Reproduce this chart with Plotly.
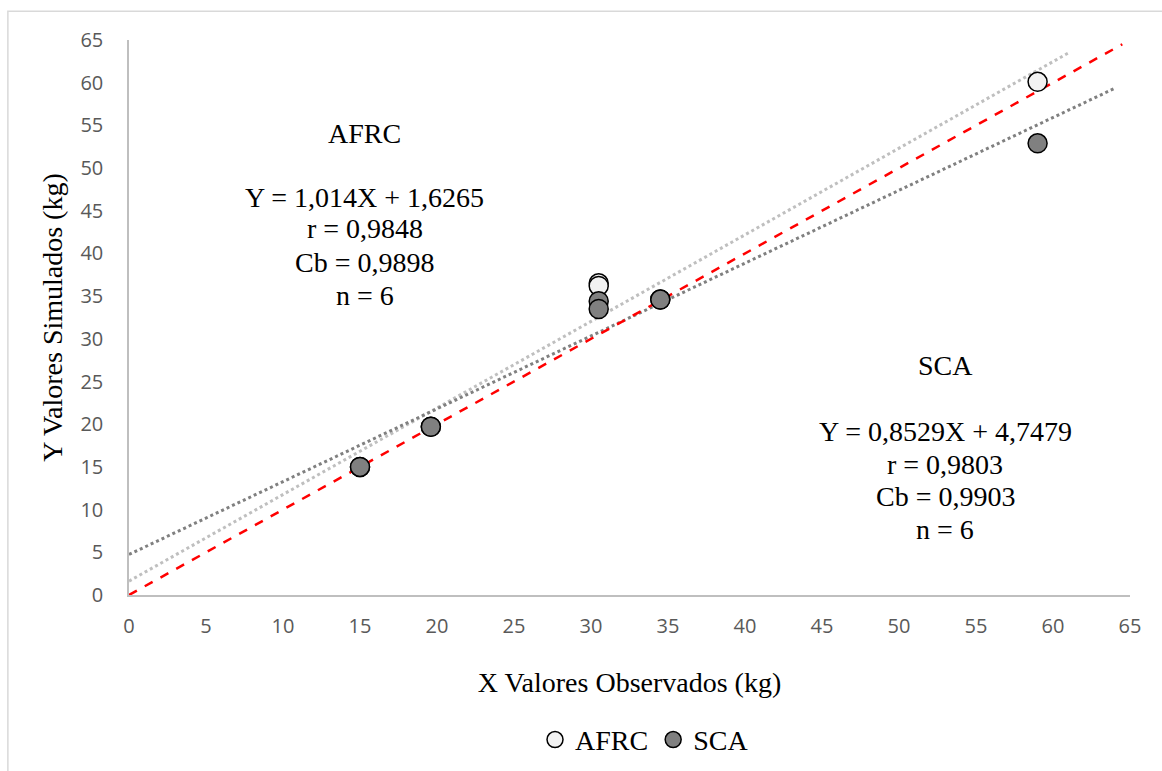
import plotly.graph_objects as go

# Observed values (kg)
obs_x = [15.0, 19.6, 30.5, 30.5, 34.5, 59.0]
# Simulated values
afrc_y = [15.0, 19.7, 36.5, 36.2, 34.6, 60.1]
sca_y = [15.0, 19.7, 34.4, 33.5, 34.6, 52.9]

# Regression coefficients (from annotation)
afrc_slope, afrc_int = 1.014, 1.6265
sca_slope, sca_int = 0.8529, 4.7479
afrc_trend_x = [0, 61]
sca_trend_x = [0, 64]
ident_x = [0, 64.5]

x_ticks = list(range(0, 70, 5))
y_ticks = list(range(0, 70, 5))

afrc_lines = ["AFRC", "Y = 1,014X + 1,6265", "r = 0,9848", "Cb = 0,9898", "n = 6"]
afrc_line_y = [54.1, 46.6, 42.9, 39.0, 35.1]
sca_lines = ["SCA", "Y = 0,8529X + 4,7479", "r = 0,9803", "Cb = 0,9903", "n = 6"]
sca_line_y = [26.9, 19.1, 15.3, 11.5, 7.7]

fig = go.Figure()

fig.add_trace(go.Scatter(
    x=afrc_trend_x, y=[afrc_slope * v + afrc_int for v in afrc_trend_x],
    mode="lines", line=dict(color="#bfbfbf", width=3, dash="dot"),
    showlegend=False, hoverinfo="skip"))
fig.add_trace(go.Scatter(
    x=sca_trend_x, y=[sca_slope * v + sca_int for v in sca_trend_x],
    mode="lines", line=dict(color="#808080", width=3, dash="dot"),
    showlegend=False, hoverinfo="skip"))
fig.add_trace(go.Scatter(
    x=ident_x, y=ident_x, mode="lines",
    line=dict(color="#ff0000", width=2.5, dash="dash"),
    showlegend=False, hoverinfo="skip"))

fig.add_trace(go.Scatter(
    x=obs_x, y=afrc_y, mode="markers", name="AFRC",
    marker=dict(size=19, color="#f2f2f2", line=dict(color="black", width=1.5))))
fig.add_trace(go.Scatter(
    x=obs_x, y=sca_y, mode="markers", name="SCA",
    marker=dict(size=19, color="#808080", line=dict(color="black", width=1.5))))

serif = "Liberation Serif, Times New Roman, serif"
tick_font = dict(family="Open Sans, Calibri, sans-serif", size=20, color="#595959")

fig.update_layout(
    width=1162, height=771,
    margin=dict(l=129, r=32, t=40, b=176, autoexpand=False),
    paper_bgcolor="white", plot_bgcolor="white",
    showlegend=True,
    legend=dict(orientation="h", x=0.515, xanchor="center", y=-0.261, yanchor="middle",
                font=dict(family=serif, size=28, color="black"), itemwidth=30,
                tracegroupgap=0),
    xaxis=dict(range=[0, 65], tickvals=x_ticks, showgrid=False, zeroline=False,
               showline=True, linecolor="#bfbfbf", linewidth=1.5, ticks="",
               tickfont=tick_font, ticklabelstandoff=12, automargin=False,
               title=dict(text="X Valores Observados (kg)", font=dict(family=serif, size=28, color="black"),
                          standoff=35)),
    yaxis=dict(range=[0, 65], tickvals=y_ticks, showgrid=False, zeroline=False,
               showline=True, linecolor="#bfbfbf", linewidth=1.5, ticks="",
               tickfont=tick_font, ticklabelstandoff=20, automargin=False,
               title=dict(text="Y Valores Simulados (kg)", font=dict(family=serif, size=28, color="black"),
                          standoff=10)),
)

ann_font = dict(family=serif, size=28, color="black")
for txt, yy in zip(afrc_lines, afrc_line_y):
    fig.add_annotation(x=15.3, y=yy, xref="x", yref="y", showarrow=False, font=ann_font,
                       text=txt, yanchor="middle", xanchor="center")
for txt, yy in zip(sca_lines, sca_line_y):
    fig.add_annotation(x=53.0, y=yy, xref="x", yref="y", showarrow=False, font=ann_font,
                       text=txt, yanchor="middle", xanchor="center")

fig.add_shape(type="rect", xref="paper", yref="paper",
              x0=-0.121, x1=1.05, y0=-0.34, y1=1.052,
              line=dict(color="#d9d9d9", width=1.5), fillcolor="rgba(0,0,0,0)", layer="below")

fig.write_html("out.html")
